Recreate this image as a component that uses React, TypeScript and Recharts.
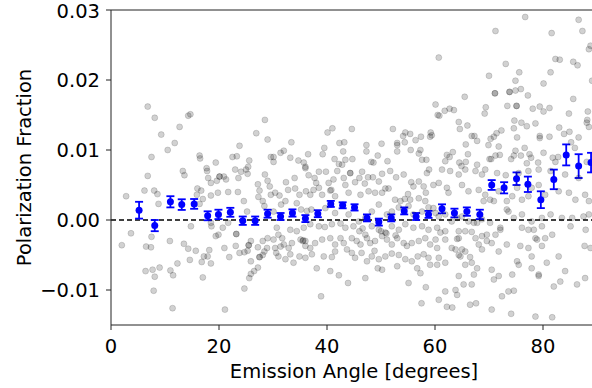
import {
  ScatterChart,
  Scatter,
  XAxis,
  YAxis,
  ReferenceLine,
  ErrorBar,
} from 'recharts'

// binned means (blue) with their 1-sigma errors
const binAngle = [
  5.2, 8.1, 11.0, 13.1, 15.4, 17.9, 19.9, 22.1, 24.4, 26.7, 29.0, 31.4, 33.6,
  36.0, 38.3, 40.7, 42.9, 45.1, 47.4, 49.6, 51.9, 54.3, 56.5, 58.8, 61.3, 63.6,
  65.9, 68.3, 70.5, 72.8, 75.1, 77.2, 79.6, 82.0, 84.3, 86.6, 88.9,
]
const binFrac = [
  0.0014, -0.0008, 0.0026, 0.0022, 0.0023, 0.0006, 0.0008, 0.0011, -0.0001,
  -0.0001, 0.0009, 0.0005, 0.001, 0.0002, 0.0009, 0.0023, 0.0021, 0.0018,
  0.0003, -0.0003, 0.0003, 0.0013, 0.0005, 0.0008, 0.0016, 0.001, 0.0012,
  0.0008, 0.005, 0.0046, 0.0059, 0.0051, 0.0029, 0.0058, 0.0093, 0.0077, 0.0082,
]
const binErr = [
  0.0012, 0.0008, 0.0008, 0.00076, 0.0007, 0.00064, 0.00067, 0.00064, 0.0006,
  0.0006, 0.00057, 0.0005, 0.00052, 0.0005, 0.0005, 0.00043, 0.00043, 0.00045,
  0.0005, 0.0005, 0.0005, 0.0005, 0.0005, 0.0005, 0.00064, 0.00062, 0.0006,
  0.00067, 0.0007, 0.0008, 0.0009, 0.0011, 0.0012, 0.0014, 0.0015, 0.0017, 0.0014,
]

// individual measurements (grey), [angle, fraction]
const pointsUpperLeft: [number, number][] = [
  [6.8, 0.0162], [8.1, 0.0146], [9.3, 0.0122], [7.5, 0.009], [10.5, 0.01],
  [11.8, 0.011], [12.7, 0.0133], [14.3, 0.0149], [14.7, 0.0151], [16.4, 0.0092],
  [16.5, 0.0088], [17.7, 0.0074], [19.4, 0.0082], [22.5, 0.009], [23.3, 0.0091],
  [23.8, 0.0106], [25.6, 0.0085], [25.4, 0.0076], [26.9, 0.0124], [28.5, 0.0143],
  [29.0, 0.0115], [29.6, 0.009],
]
const pointsUpperMid: [number, number][] = [
  [30.1, 0.009], [30.1, 0.0083], [31.4, 0.0096], [32.0, 0.0099], [33.4, 0.0111],
  [33.2, 0.0089], [34.7, 0.0085], [35.7, 0.0082], [36.5, 0.0094], [36.0, 0.0076],
  [39.2, 0.0094], [39.5, 0.0103], [40.1, 0.0125], [41.0, 0.0131], [42.3, 0.011],
  [43.2, 0.0111], [43.0, 0.0098], [41.4, 0.0087], [42.2, 0.008], [42.8, 0.0079],
  [43.4, 0.0086], [44.7, 0.0087], [44.6, 0.013], [47.3, 0.0107], [47.3, 0.0098],
  [48.2, 0.0083], [48.6, 0.0082], [49.4, 0.0092], [50.1, 0.0109], [51.2, 0.0084],
  [52.2, 0.013], [53.0, 0.011], [53.0, 0.0107], [53.0, 0.0098], [54.1, 0.012],
  [54.5, 0.0125], [55.4, 0.0123], [54.4, 0.0111], [55.5, 0.01], [56.4, 0.0114],
  [57.0, 0.0095], [57.4, 0.0119], [57.3, 0.01], [57.6, 0.0086], [58.4, 0.0086],
  [59.1, 0.0119], [59.2, 0.0125],
]
const pointsUpperRight: [number, number][] = [
  [76.7, 0.029], [86.6, 0.0286], [71.2, 0.027], [81.6, 0.0267], [87.3, 0.027],
  [88.5, 0.0244], [88.8, 0.0249], [60.7, 0.0232], [82.3, 0.023], [83.1, 0.0229],
  [85.6, 0.0226], [86.4, 0.0221], [73.1, 0.0223], [75.6, 0.0211], [70.0, 0.0206],
  [81.4, 0.0211], [74.9, 0.0199], [80.1, 0.0195], [89.1, 0.0199], [73.8, 0.0183],
  [73.8, 0.0183], [71.1, 0.0181], [71.1, 0.0181], [74.9, 0.0185], [75.9, 0.0187],
  [77.2, 0.0178], [65.5, 0.0176], [85.6, 0.0173], [60.1, 0.0165], [61.8, 0.0156],
  [62.7, 0.0159], [63.5, 0.0157], [60.5, 0.015], [60.8, 0.0149], [69.4, 0.0161],
  [69.2, 0.0152], [73.4, 0.0163], [75.1, 0.0163], [75.1, 0.0163], [78.1, 0.0159],
  [79.4, 0.0162], [80.1, 0.0155], [81.2, 0.016], [84.8, 0.0152], [88.3, 0.0155],
  [64.4, 0.014], [64.6, 0.013], [66.0, 0.0135], [74.7, 0.0142], [74.6, 0.0131],
  [76.0, 0.0139], [77.0, 0.0134], [78.6, 0.0138], [88.2, 0.0143], [88.1, 0.0139],
  [88.5, 0.0133], [83.0, 0.0132], [84.9, 0.0126], [59.4, 0.0121], [66.8, 0.012],
  [67.3, 0.012], [67.8, 0.0113], [70.3, 0.0116], [70.9, 0.0119], [71.4, 0.0124],
  [72.3, 0.0128], [69.9, 0.0107], [75.2, 0.0118], [79.4, 0.012], [79.4, 0.0117],
  [81.2, 0.0119], [83.9, 0.0123], [85.2, 0.0111], [86.6, 0.0118], [65.7, 0.0108],
  [71.8, 0.0105], [76.6, 0.0103], [85.9, 0.0103], [63.3, 0.0097], [62.2, 0.0093],
  [62.7, 0.009], [66.1, 0.0094], [71.2, 0.0092], [72.0, 0.0093], [74.9, 0.0099],
  [74.6, 0.0092], [74.1, 0.0087], [75.9, 0.0092], [77.5, 0.0094], [77.8, 0.0089],
  [80.1, 0.0096], [81.8, 0.0089], [82.8, 0.009], [70.1, 0.0087], [70.4, 0.0087],
  [61.9, 0.0084], [64.5, 0.0082], [65.7, 0.0083], [64.9, 0.0077], [67.8, 0.0079],
  [77.0, 0.0081], [79.1, 0.0082], [82.3, 0.0083], [88.1, 0.0083],
]
const pointsLowerLeft: [number, number][] = [
  [6.8, 0.0063], [2.8, 0.0034], [6.2, 0.0042], [8.0, 0.0042], [8.6, 0.0037],
  [8.8, 0.0023], [13.3, 0.007], [13.6, 0.0064], [16.0, 0.0045], [16.7, 0.0042],
  [15.9, 0.0036], [17.0, 0.003], [16.4, 0.0023], [17.8, 0.007], [18.0, 0.006],
  [18.5, 0.0053], [19.6, 0.0056], [19.8, 0.0039], [18.5, 0.0035], [20.9, 0.0062],
  [21.3, 0.0058], [21.7, 0.004], [23.0, 0.0072], [23.6, 0.006], [24.1, 0.0069],
  [25.0, 0.0072], [25.3, 0.0066], [23.5, 0.004], [24.6, 0.0027], [25.2, 0.0012],
  [27.2, 0.0051], [27.5, 0.0042], [27.3, 0.0033], [28.5, 0.0065], [29.0, 0.0056],
  [29.4, 0.0048], [28.1, 0.0027], [28.4, 0.002], [29.6, 0.0036], [20.1, 0.0062],
  [20.1, 0.0062], [3.7, -0.0019], [2.0, -0.0036], [6.5, -0.0038], [7.4, -0.0039],
  [7.5, -0.0024], [10.9, -0.003], [13.5, -0.0034], [14.3, -0.0041], [14.8, -0.0009],
  [15.7, -0.0044], [14.6, -0.0057], [12.3, -0.0062], [18.2, -0.0043], [17.2, -0.0052],
  [17.9, -0.0052], [16.8, -0.006], [18.5, -0.0062], [18.6, -0.0009], [19.4, -0.0023],
  [19.9, -0.0021], [18.5, -0.0004], [20.7, -0.0011], [21.7, -0.0004], [21.0, -0.004],
  [21.9, -0.0053], [23.2, -0.002], [23.2, -0.002], [23.1, -0.0037], [23.8, -0.0047],
  [24.7, -0.0046], [25.3, -0.0044], [25.5, -0.0036], [25.5, -0.0036], [25.9, -0.003],
  [27.2, -0.0039], [27.5, -0.0053], [27.5, -0.0053], [28.1, -0.005], [28.4, -0.0045],
  [28.9, -0.004], [29.0, -0.0026], [28.1, -0.003], [25.9, -0.0059], [27.2, -0.0068],
  [26.5, -0.0073], [25.9, -0.0077], [25.6, -0.0083], [6.4, -0.0073], [7.7, -0.0071],
  [9.0, -0.0068], [8.1, -0.0081], [11.0, -0.0072], [11.5, -0.0079], [7.9, -0.0101],
  [17.0, -0.0082], [24.7, -0.0098], [11.4, -0.0126], [21.1, -0.0128],
]
const pointsLowerMid: [number, number][] = [
  [32.4, 0.0054], [34.0, 0.006], [36.0, 0.0074], [36.6, 0.0064], [37.7, 0.006],
  [38.0, 0.0053], [38.5, 0.0069], [39.8, 0.0069], [40.3, 0.0053], [41.2, 0.0058],
  [41.9, 0.007], [43.1, 0.006], [43.4, 0.005], [44.3, 0.0067], [44.3, 0.0067],
  [45.2, 0.0054], [46.0, 0.006], [46.5, 0.0069], [47.0, 0.0052], [47.6, 0.0061],
  [48.5, 0.0061], [49.6, 0.0055], [50.2, 0.0066], [51.7, 0.007], [50.8, 0.0045],
  [51.4, 0.0045], [52.8, 0.0061], [54.2, 0.0065], [55.6, 0.0054], [56.0, 0.0048],
  [57.0, 0.0055], [57.9, 0.0048], [58.5, 0.0067], [58.3, 0.0039], [58.9, 0.0072],
  [30.4, 0.0039], [31.2, 0.0035], [32.8, 0.0043], [34.1, 0.0045], [34.9, 0.0036],
  [36.1, 0.0041], [36.9, 0.0036], [37.5, 0.0043], [38.5, 0.0046], [39.1, 0.0036],
  [40.6, 0.0042], [40.8, 0.0043], [41.5, 0.0034], [44.0, 0.0039], [46.2, 0.0036],
  [47.7, 0.0041], [48.9, 0.0039], [50.2, 0.0039], [52.6, 0.0029], [53.6, 0.0027],
  [55.0, 0.0037], [55.4, 0.0029], [54.4, 0.003], [57.0, 0.0031], [58.2, 0.0027],
  [30.1, 0.0012], [31.5, 0.0022], [32.3, 0.0027], [34.4, 0.0024], [35.2, 0.0015],
  [36.3, 0.0013], [37.1, 0.0015], [39.7, 0.0017], [41.5, 0.001], [44.0, 0.0008],
  [45.9, -0.0002], [47.1, 0.0003], [48.3, 0.0012], [49.6, 0.0022], [51.1, 0.0008],
  [52.0, 0.0012], [53.3, 0.0018], [55.1, 0.002], [56.0, 0.0008], [57.6, 0.0012],
  [58.8, 0.0018], [30.7, -0.0011], [31.0, -0.0021], [31.7, -0.0026], [33.2, -0.0014],
  [34.4, -0.0016], [35.7, -0.0011], [36.9, -0.0006], [38.5, -0.0009], [39.6, -0.001],
  [40.9, -0.0006], [42.5, -0.0005], [43.4, -0.0011], [44.9, -0.0009], [46.0, -0.0016],
  [46.6, -0.0012], [47.1, -0.0021], [48.3, -0.0009], [49.6, -0.0014], [50.0, -0.0016],
  [50.8, -0.0018], [51.0, -0.0019], [52.0, -0.0009], [53.3, -0.0014], [54.5, -0.0006],
  [56.0, -0.0011], [57.6, -0.0009], [58.8, -0.0014], [30.1, -0.0028], [30.4, -0.004],
  [30.6, -0.0047], [32.0, -0.0035], [32.9, -0.004], [33.5, -0.0033], [35.1, -0.0028],
  [35.5, -0.003], [35.6, -0.0029], [36.0, -0.0037], [36.0, -0.003], [36.9, -0.004],
  [37.8, -0.0033], [39.1, -0.0028], [40.6, -0.0026], [41.5, -0.0035], [42.5, -0.0026],
  [43.1, -0.0033], [44.6, -0.0026], [45.5, -0.003], [46.2, -0.0035], [47.4, -0.0026],
  [48.0, -0.0033], [48.9, -0.003], [50.2, -0.0023], [51.1, -0.0028], [52.0, -0.0035],
  [52.7, -0.0022], [53.0, -0.0026], [54.2, -0.0033], [54.8, -0.0037], [55.7, -0.0033],
  [57.0, -0.003], [58.2, -0.0026], [59.1, -0.0035], [31.0, -0.0052], [31.4, -0.0038],
  [32.3, -0.0056], [33.2, -0.0049], [33.8, -0.0061], [34.9, -0.0052], [36.0, -0.0054],
  [37.2, -0.0049], [38.1, -0.0069], [39.4, -0.0052], [40.9, -0.0053], [41.5, -0.0045],
  [43.7, -0.0042], [44.6, -0.0047], [45.2, -0.0054], [46.4, -0.0047], [47.4, -0.0059],
  [48.3, -0.0052], [48.8, -0.0044], [49.6, -0.0056], [50.8, -0.0052], [52.0, -0.0048],
  [53.3, -0.005], [54.5, -0.0056], [55.7, -0.0059], [56.8, -0.0052], [57.9, -0.0049],
  [58.8, -0.0054], [59.1, -0.0064], [40.6, -0.0073], [42.2, -0.0079], [43.9, -0.009],
  [47.1, -0.0083], [49.4, -0.0069], [50.2, -0.0071], [53.0, -0.0066], [55.1, -0.009],
  [56.7, -0.0069], [57.3, -0.0076], [58.3, -0.0096], [38.9, -0.0109], [57.5, -0.0119],
]
const pointsLowerRight: [number, number][] = [
  [61.3, 0.0072], [62.8, 0.007], [64.4, 0.0065], [65.6, 0.0072], [67.5, 0.007],
  [68.7, 0.0065], [69.3, 0.0072], [71.5, 0.0067], [73.1, 0.0064], [75.5, 0.0067],
  [77.3, 0.007], [79.2, 0.0072], [81.4, 0.007], [84.1, 0.0065], [86.6, 0.006],
  [59.7, 0.005], [60.7, 0.0053], [62.2, 0.0046], [62.5, 0.0039], [65.0, 0.005],
  [66.2, 0.0041], [68.1, 0.0043], [69.0, 0.0027], [69.3, 0.0036], [70.2, 0.0029],
  [70.9, 0.0027], [71.8, 0.0041], [73.3, 0.0027], [74.3, 0.0034], [75.2, 0.0046],
  [76.1, 0.0029], [77.3, 0.0034], [77.9, 0.0046], [79.2, 0.005], [80.4, 0.0036],
  [82.9, 0.0041], [84.8, 0.0039], [86.0, 0.0029], [87.8, 0.0036], [88.5, 0.0027],
  [59.7, 0.0017], [60.1, 0.001], [60.7, 0.0005], [61.9, 0.0008], [63.1, -0.0002],
  [64.1, 0.0003], [65.0, 0.0005], [66.2, -0.0002], [67.2, -0.0004], [67.8, -0.0004],
  [68.7, 0.0001], [70.2, -0.0004], [72.1, -0.0011], [73.3, 0.0015], [73.6, 0.0012],
  [74.6, 0.0003], [76.1, 0.0008], [77.9, -0.0002], [79.8, 0.0003], [81.4, 0.0008],
  [83.5, 0.0003], [85.4, 0.0003], [87.5, 0.0005], [88.5, 0.0008], [60.4, -0.0011],
  [61.0, -0.0018], [61.9, -0.0016], [64.4, -0.0016], [65.6, -0.0016], [66.8, -0.0017],
  [64.4, -0.0026], [64.1, -0.0027], [67.5, -0.0026], [68.7, -0.0023], [69.6, -0.0021],
  [71.2, -0.0021], [72.1, -0.0014], [60.1, -0.0028], [61.9, -0.0028], [60.4, -0.004],
  [63.1, -0.004], [63.8, -0.0042], [65.0, -0.0042], [65.6, -0.0045], [64.7, -0.0052],
  [64.4, -0.005], [66.5, -0.0053], [68.1, -0.0035], [68.7, -0.0042], [69.6, -0.003],
  [70.5, -0.0033], [71.8, -0.0045], [73.3, -0.0035], [76.1, -0.0011], [77.3, -0.0014],
  [78.3, -0.0014], [79.8, -0.0009], [78.6, -0.0026], [80.4, -0.0026], [81.7, -0.0021],
  [85.1, -0.0009], [87.9, -0.0014], [88.8, -0.004], [87.7, -0.0037], [75.8, -0.0037],
  [77.3, -0.004], [78.9, -0.0028], [79.8, -0.0037], [77.9, -0.0052], [75.2, -0.0059],
  [75.5, -0.0064], [77.9, -0.0069], [79.2, -0.008], [80.7, -0.0061], [82.9, -0.0052],
  [84.1, -0.0073], [86.3, -0.0092], [87.8, -0.0083], [60.4, -0.0064], [60.7, -0.0054],
  [61.9, -0.0061], [65.6, -0.0064], [66.8, -0.0061], [67.8, -0.0069], [67.2, -0.0078],
  [64.4, -0.008], [65.3, -0.0092], [66.8, -0.0092], [70.5, -0.0071], [70.9, -0.0085],
  [71.8, -0.008], [74.3, -0.0078], [72.4, -0.0109], [73.6, -0.0102], [74.6, -0.0101],
  [79.2, -0.0078], [82.0, -0.0095], [83.2, -0.0088], [61.9, -0.0102], [63.8, -0.01],
  [64.1, -0.0107], [60.7, -0.0114], [66.5, -0.0121], [67.6, -0.0119], [70.5, -0.0128],
  [74.1, -0.0134], [78.6, -0.0138], [81.7, -0.0139], [62.2, -0.0124], [63.2, -0.0125],
]

const allPoints = [
  ...pointsUpperLeft,
  ...pointsUpperMid,
  ...pointsUpperRight,
  ...pointsLowerLeft,
  ...pointsLowerMid,
  ...pointsLowerRight,
].map(([x, y]) => ({ x, y }))

const binData = binAngle.map((x, i) => ({ x, y: binFrac[i], err: binErr[i] }))

const xTicks = [0, 20, 40, 60, 80]
const yTicks = [-0.01, 0, 0.01, 0.02, 0.03]

const font = '"DejaVu Sans", sans-serif'
const fontSize = 19.5

const fmtY = (v: number) => (v < 0 ? '\u2212' + Math.abs(v).toFixed(2) : v.toFixed(2))

const GreyDot = (p: any) => (
  <circle
    cx={p.cx}
    cy={p.cy}
    r={3}
    fill="#000"
    fillOpacity={0.18}
    stroke="#000"
    strokeOpacity={0.14}
    strokeWidth={1}
  />
)

const BlueDot = (p: any) => <circle cx={p.cx} cy={p.cy} r={3.5} fill="#0000ff" />

export default function App() {
  return (
    <div
      style={{
        position: 'absolute',
        left: 0,
        top: 0,
        width: 592,
        height: 388,
        overflow: 'hidden',
        background: '#fff',
        fontFamily: font,
      }}
    >
      <ScatterChart
        width={600}
        height={388}
        margin={{ top: 10, right: 3, left: 0, bottom: 3 }}
      >
        <XAxis
          dataKey="x"
          type="number"
          domain={[0, 90]}
          ticks={xTicks}
          allowDataOverflow
          height={60}
          tickSize={5}
          tickMargin={9}
          stroke="#222"
          tick={{ fill: '#000', fontSize, fontFamily: font }}
          label={{
            content: (props: any) => {
              const vb = props.viewBox
              return (
                <text
                  x={vb.x + vb.width / 2}
                  y={378}
                  textAnchor="middle"
                  fontSize={fontSize}
                  fontFamily={font}
                  fill="#000"
                >
                  Emission Angle [degrees]
                </text>
              )
            },
          }}
        />
        <YAxis
          dataKey="y"
          type="number"
          domain={[-0.015, 0.03]}
          ticks={yTicks}
          allowDataOverflow
          width={111}
          tickSize={5}
          tickMargin={6}
          stroke="#222"
          tickFormatter={fmtY}
          tick={{ fill: '#000', fontSize, fontFamily: font }}
          label={{
            content: (props: any) => {
              const vb = props.viewBox
              const cy = vb.y + vb.height / 2
              return (
                <text
                  x={31}
                  y={cy}
                  transform={`rotate(-90, 31, ${cy})`}
                  textAnchor="middle"
                  fontSize={fontSize}
                  fontFamily={font}
                  fill="#000"
                >
                  Polarization Fraction
                </text>
              )
            },
          }}
        />
        <ReferenceLine y={0.03} stroke="#222" strokeWidth={1} />
        <Scatter
          data={allPoints}
          shape={GreyDot}
          isAnimationActive={false}
        />
        <ReferenceLine y={0} stroke="#000" strokeWidth={1.5} strokeDasharray="5 3" />
        <Scatter data={binData} shape={BlueDot} isAnimationActive={false}>
          <ErrorBar
            dataKey="err"
            direction="y"
            width={4}
            stroke="#0000ff"
            strokeWidth={1.8}
            isAnimationActive={false}
          />
        </Scatter>
      </ScatterChart>
    </div>
  )
}
